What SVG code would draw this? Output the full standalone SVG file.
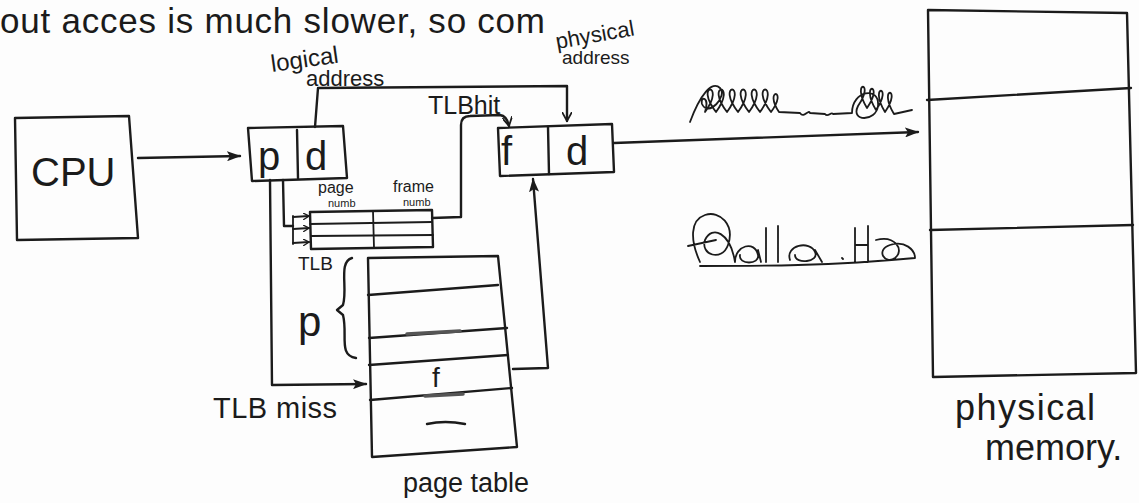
<svg xmlns="http://www.w3.org/2000/svg" width="1139" height="503" viewBox="0 0 1139 503">
<style>
.ln{stroke:#1b1b1b;stroke-width:2.4;fill:none;stroke-linecap:round;stroke-linejoin:round}
.th{stroke:#1b1b1b;stroke-width:1.8;fill:none;stroke-linecap:round;stroke-linejoin:round}
.bar{stroke:#555;stroke-width:3.5;fill:none;stroke-linecap:round}
.t{font-family:"Liberation Sans",Arial,sans-serif;fill:#1b1b1b}
</style>
<defs>
<marker id="ah" viewBox="0 0 14 10" refX="13" refY="5" markerWidth="14" markerHeight="10" markerUnits="userSpaceOnUse" orient="auto"><path d="M0,0 L14,5 L0,10 L3,5 z" fill="#1b1b1b"/></marker>
<marker id="av" viewBox="0 0 10 10" refX="9" refY="5" markerWidth="10" markerHeight="10" markerUnits="userSpaceOnUse" orient="auto"><path d="M0,0 L9,5 L0,10" fill="none" stroke="#1b1b1b" stroke-width="1.8"/></marker>
<marker id="as" viewBox="0 0 8 8" refX="7" refY="4" markerWidth="7" markerHeight="7" markerUnits="userSpaceOnUse" orient="auto"><path d="M0,0 L7,4 L0,8" fill="none" stroke="#1b1b1b" stroke-width="1.5"/></marker>
</defs>
<rect width="1139" height="503" fill="#fdfdfd"/>

<text class="t" x="0" y="33" font-size="35" textLength="545">out acces is much slower, so com</text>

<g id="cpu">
<path class="ln" d="M15,118 L129,116 L138,238 L17,240 Z"/>
<text class="t" x="31" y="186" font-size="40">CPU</text>
</g>

<g id="logical-address">
<path class="ln" d="M248,128 L343,126 L347,178 L252,181 Z"/>
<path class="ln" d="M297,130 L298,178"/>
<text class="t" x="258" y="170" font-size="40">p</text>
<text class="t" x="305" y="170" font-size="40">d</text>
<text class="t" x="272" y="72" font-size="24" transform="rotate(-8 272 72)">logical</text>
<text class="t" x="306" y="86" font-size="22">address</text>
</g>

<g id="physical-address">
<path class="ln" d="M498,128 L612,124 L614,172 L500,176 Z"/>
<path class="ln" d="M548,127 L549,174"/>
<text class="t" x="557" y="49" font-size="22" transform="rotate(-10 557 49)">physical</text>
<text class="t" x="501" y="165" font-size="40">f</text>
<text class="t" x="566" y="165" font-size="40">d</text>
<text class="t" x="562" y="64" font-size="19">address</text>
</g>

<g id="tlb">
<path class="ln" d="M310,212 L432,210 L433,247 L311,249 Z"/>
<path class="th" d="M310,224 L432,222 M311,236 L433,235 M373,211 L374,248"/>
<text class="t" x="318" y="193" font-size="16">page</text>
<text class="t" x="328" y="207" font-size="11">numb</text>
<text class="t" x="393" y="192" font-size="16">frame</text>
<text class="t" x="403" y="206" font-size="11">numb</text>
<text class="t" x="298" y="270" font-size="19">TLB</text>
<text class="t" x="428" y="114" font-size="25">TLBhit</text>
</g>

<g id="page-table">
<path class="ln" d="M368,258 L498,256 L517,447 L372,457 Z"/>
<path class="ln" d="M368,295 L498,285 M369,338 L507,328 M369,365 L508,355 M370,400 L512,388"/>
<path class="bar" d="M407,334 L460,331 M425,396 L463,394"/>
<text class="t" x="432" y="387" font-size="28">f</text>
<path class="ln" d="M427,424 Q445,420 465,424"/>
<path class="ln" d="M352,258 C338,262 348,288 343,305 L337,310 L343,315 C348,335 338,355 356,358"/>
<text class="t" x="298" y="336" font-size="42">p</text>
<text class="t" x="403" y="492" font-size="27">page table</text>
<text class="t" x="213" y="418" font-size="29" textLength="124">TLB miss</text>
</g>

<g id="physical-memory">
<path class="ln" d="M928,10 L1127,13 L1136,373 L933,377 Z"/>
<path class="ln" d="M927,100 L1131,88 M930,230 L1133,225"/>
<text class="t" x="955" y="420" font-size="36" textLength="140">physical</text>
<text class="t" x="985" y="460" font-size="36">memory.</text>
</g>

<g id="scribbles">
<path class="th" d="M690,122 C700,95 712,80 720,88 C728,96 708,118 702,104 C700,96 710,96 705,112 c22,-30 -12,-30 11,0 c22,-30 -12,-30 11,0 c22,-30 -12,-30 11,0 c22,-30 -12,-30 11,0 c22,-30 -12,-30 11,0 c22,-30 -12,-30 11,0 c18,-24 -8,-24 8,0 L800,113 c4,6 8,-4 10,0 L825,114 c3,4 6,-3 8,0 L852,113 C852,90 880,86 878,106 C876,122 850,122 858,106 c18,-26 -8,-26 9,2 c18,-26 -8,-26 9,2 c18,-26 -8,-26 9,2 c18,-26 -8,-26 9,2 L912,110"/>
<path class="th" d="M700,262 C690,240 690,220 705,215 C720,210 735,225 728,245 C722,262 700,255 705,240 C712,225 730,232 735,262 M688,246 L716,240 M735,262 C735,245 755,240 758,255 C760,265 738,265 740,255 M758,250 L761,262 M766,262 L766,228 M778,262 L778,226 M790,260 C785,245 810,240 815,252 C820,262 795,265 795,255 M815,250 L822,262 M842,258 l1,1 M855,228 L855,262 M868,226 L868,262 M855,245 L868,245 M876,240 C895,235 905,250 895,258 C885,265 875,250 890,245 C905,240 915,250 915,258 M700,266 C760,266 830,266 915,258"/>
</g>

<g id="connectors">
<path class="ln" d="M138,158 L240,156" marker-end="url(#ah)"/>
<path class="ln" d="M315,127 L318,88 L567,86 L567,121" marker-end="url(#av)"/>
<path class="ln" d="M432,218 L461,217 L461,125 Q461,116 470,116 L500,115 Q507,116 509,126" marker-end="url(#av)"/>
<path class="ln" d="M283,180 L284,226 L293,226"/>
<path class="th" d="M293,216 L293,244"/>
<path class="th" d="M293,217 L309,216" marker-end="url(#as)"/>
<path class="th" d="M293,229 L309,228" marker-end="url(#as)"/>
<path class="th" d="M293,243 L309,242" marker-end="url(#as)"/>
<path class="ln" d="M270,180 L272,385 L366,384" marker-end="url(#ah)"/>
<path class="ln" d="M513,369 L548,368 L533,179" marker-end="url(#ah)"/>
<path class="ln" d="M614,143 L918,132" marker-end="url(#ah)"/>
</g>
</svg>
